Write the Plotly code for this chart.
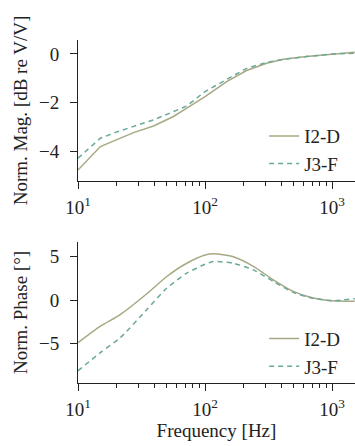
import plotly.graph_objects as go
from plotly.subplots import make_subplots

freq_mag = [10, 15, 20, 27.4, 39.3, 56.4, 71.8, 100, 148, 212, 305, 412, 628, 1000, 1507]
mag_i2d = [-4.75, -3.79, -3.52, -3.22, -2.95, -2.56, -2.22, -1.75, -1.13, -0.68, -0.38, -0.22, -0.11, 0.0, 0.07]
mag_j3f = [-4.27, -3.45, -3.2, -2.97, -2.7, -2.36, -2.13, -1.54, -1.06, -0.59, -0.35, -0.22, -0.11, 0.0, 0.03]

freq_ph = [10, 15, 21.5, 34.8, 50, 71.8, 100, 116, 167, 240, 344, 494, 709, 1000, 1507]
ph_i2d = [-4.87, -2.97, -1.63, 0.76, 2.74, 4.26, 5.2, 5.36, 5.0, 3.9, 2.36, 1.03, 0.27, -0.04, -0.11]
ph_j3f = [-8.1, -6.0, -4.3, -1.06, 1.41, 3.12, 4.14, 4.45, 4.26, 3.5, 2.17, 0.91, 0.23, -0.04, 0.19]

x_ticks = [10, 100, 1000]
x_ticklabels = ["10<sup>1</sup>", "10<sup>2</sup>", "10<sup>3</sup>"]
minor_ticks = [20, 30, 40, 50, 60, 70, 80, 90, 200, 300, 400, 500, 600, 700, 800, 900]
mag_ticks = [-4, -2, 0]
ph_ticks = [-5, 0, 5]

C1 = "#a8a883"
C2 = "#6aa99a"
FONT = "Liberation Serif"
FS = 19

fig = make_subplots(rows=2, cols=1, vertical_spacing=0.0)

fig.add_trace(go.Scatter(x=freq_mag, y=mag_i2d, mode="lines", name="I2-D",
                         line=dict(color=C1, width=1.5), legend="legend"), row=1, col=1)
fig.add_trace(go.Scatter(x=freq_mag, y=mag_j3f, mode="lines", name="J3-F",
                         line=dict(color=C2, width=1.5, dash="5px,4px"), legend="legend"), row=1, col=1)
fig.add_trace(go.Scatter(x=freq_ph, y=ph_i2d, mode="lines", name="I2-D",
                         line=dict(color=C1, width=1.5, shape="spline", smoothing=0.6),
                         legend="legend2"), row=2, col=1)
fig.add_trace(go.Scatter(x=freq_ph, y=ph_j3f, mode="lines", name="J3-F",
                         line=dict(color=C2, width=1.5, dash="5px,4px", shape="spline", smoothing=0.6),
                         legend="legend2"), row=2, col=1)

xcommon = dict(type="log", range=[1, 3.18], showgrid=False, zeroline=False,
               showline=True, linecolor="#222", linewidth=1, ticks="outside",
               ticklen=7, tickcolor="#222", tickvals=x_ticks, ticktext=x_ticklabels,
               minor=dict(ticks="outside", ticklen=4, tickcolor="#222", tickvals=minor_ticks),
               tickfont=dict(size=FS), ticklabelstandoff=2, automargin=False)
ycommon = dict(showgrid=False, zeroline=False, showline=True, linecolor="#222", linewidth=1,
               ticks="outside", ticklen=7, tickcolor="#222", tickfont=dict(size=FS),
               ticklabelstandoff=7, automargin=False)

fig.update_xaxes(**xcommon)
fig.update_xaxes(title=dict(text="Frequency [Hz]", font=dict(size=FS), standoff=0), row=2, col=1)
fig.update_yaxes(**ycommon)
fig.update_yaxes(range=[-5.2, 0.57], tickvals=mag_ticks,
                 title=dict(text="Norm. Mag. [dB re V/V]", font=dict(size=FS), standoff=6),
                 domain=[0.589, 1.0], row=1, col=1)
fig.update_yaxes(range=[-9.5, 6.7], tickvals=ph_ticks,
                 title=dict(text="Norm. Phase [°]", font=dict(size=FS), standoff=6),
                 domain=[0.0, 0.411], row=2, col=1)

legcommon = dict(bgcolor="rgba(0,0,0,0)", font=dict(size=FS), xanchor="left", yanchor="bottom",
                 tracegroupgap=0, itemwidth=30)
fig.update_layout(
    width=355, height=446,
    margin=dict(l=78, r=0, t=40, b=63),
    paper_bgcolor="white", plot_bgcolor="white",
    font=dict(family=FONT, color="#222", size=FS),
    showlegend=True,
    legend=dict(x=0.672, y=0.583, **legcommon),
    legend2=dict(x=0.672, y=-0.008, **legcommon),
)

fig.write_html("out.html", config={"displayModeBar": False},
               post_script="document.body.style.margin='0';")
